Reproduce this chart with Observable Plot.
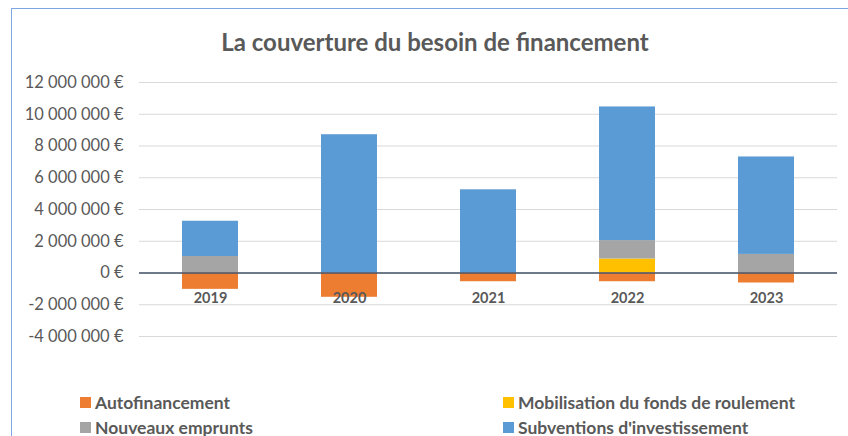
<!DOCTYPE html>
<html>
<head>
<meta charset="utf-8">
<script src="https://cdn.jsdelivr.net/npm/d3@7"></script>
<script src="https://cdn.jsdelivr.net/npm/@observablehq/plot@0.6"></script>
<style>
  html, body { margin: 0; padding: 0; background: #fff; }
  #wrap { position: relative; width: 848px; height: 436px; overflow: hidden; font-family: Lato, "Open Sans", sans-serif; }
  #frame { position: absolute; left: 11px; top: 8px; width: 860px; height: 460px; border: 1px solid #7EA6E0; box-sizing: border-box; }
  #title { position: absolute; left: 0; width: 870px; top: 27px; text-align: center; font-size: 24px; font-weight: bold; color: #595959; }
  #chart { position: absolute; left: 0; top: 0; }
  .leg { position: absolute; font-size: 17.5px; font-weight: bold; color: #595959; display: flex; align-items: center; white-space: nowrap; }
  .leg span.sw { display: inline-block; width: 11px; height: 11px; margin-right: 4px; }
</style>
</head>
<body>
<div id="wrap">
  <div id="frame"></div>
  <div id="title">La couverture du besoin de financement</div>
  <div id="chart"></div>
  <div id="legend"></div>
</div>
<script>
const years = ["2019", "2020", "2021", "2022", "2023"];
const autofinancement = [-1030000, -1530000, -550000, -550000, -630000];
const mobilisation = [0, 0, 0, 880000, 0];
const emprunts = [1040000, 0, 0, 1160000, 1170000];
const subventions = [2220000, 8710000, 5240000, 8420000, 6140000];

const seriesNames = ["Autofinancement", "Mobilisation du fonds de roulement", "Nouveaux emprunts", "Subventions d'investissement"];
const seriesValues = [autofinancement, mobilisation, emprunts, subventions];
const seriesColors = ["#ED7D31", "#FFC000", "#A5A5A5", "#5B9BD5"];
const yTicks = [-4000000, -2000000, 0, 2000000, 4000000, 6000000, 8000000, 10000000, 12000000];

const data = [];
seriesNames.forEach((name, i) => {
  years.forEach((yr, j) => data.push({ year: yr, series: name, value: seriesValues[i][j] }));
});

const fmt = v => d3.format(",")(v).replace(/,/g, " ").replace("−", "-") + " €";

const chart = Plot.plot({
  width: 848,
  height: 380,
  marginTop: 82,
  marginBottom: 44,
  marginLeft: 139,
  marginRight: 11,
  style: { fontFamily: "Lato, 'Open Sans', sans-serif", background: "transparent", overflow: "visible" },
  x: { domain: years, paddingInner: 0.6, paddingOuter: 0.3, axis: null },
  y: { domain: [-4000000, 12000000], ticks: yTicks, tickFormat: fmt, grid: false, label: null },
  color: { domain: seriesNames, range: seriesColors },
  marks: [
    Plot.gridY(yTicks, { stroke: "#D9D9D9", strokeOpacity: 1, strokeWidth: 1.2 }),
    Plot.axisY(yTicks, { tickFormat: fmt, tickSize: 0, tickPadding: 16, fontSize: 16.5, fill: "#595959", label: null }),
    Plot.barY(data, { x: "year", y: "value", fill: "series", order: seriesNames }),
    Plot.ruleY([0], { stroke: "#44546A", strokeWidth: 1.5 }),
    Plot.text(years, { x: d => d, y: () => 0, dy: 25, text: d => d, fontSize: 14.5, fontWeight: "bold", fill: "#595959" })
  ]
});
document.getElementById("chart").appendChild(chart);

const legend = document.getElementById("legend");
const legPos = [[80, 402], [503, 402], [80, 427], [503, 427]];
seriesNames.forEach((name, i) => {
  const div = document.createElement("div");
  div.className = "leg";
  div.style.left = legPos[i][0] + "px";
  div.style.top = (legPos[i][1] - 10) + "px";
  div.style.height = "20px";
  div.innerHTML = `<span class="sw" style="background:${seriesColors[i]}"></span>${name}`;
  legend.appendChild(div);
});
</script>
</body>
</html>
